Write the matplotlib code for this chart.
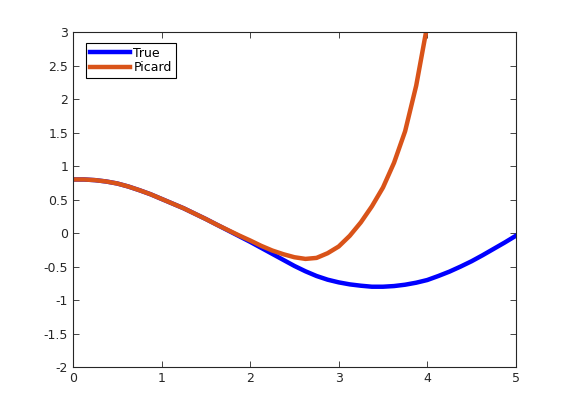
import matplotlib
matplotlib.use("Agg")
import matplotlib.pyplot as plt

x_true = [0, 0.125, 0.25, 0.375, 0.5, 0.625, 0.75, 0.875, 1.0, 1.125, 1.25,
          1.375, 1.5, 1.625, 1.75, 1.875, 2.0, 2.125, 2.25, 2.375, 2.5, 2.625,
          2.75, 2.875, 3.0, 3.125, 3.25, 3.375, 3.5, 3.625, 3.75, 3.875, 4.0,
          4.125, 4.25, 4.375, 4.5, 4.625, 4.75, 4.875, 5.0]
y_true = [0.80, 0.80, 0.79, 0.77, 0.74, 0.695, 0.64, 0.58, 0.51, 0.44, 0.37,
          0.29, 0.21, 0.125, 0.04, -0.045, -0.13, -0.22, -0.31, -0.40, -0.49,
          -0.57, -0.64, -0.695, -0.735, -0.765, -0.785, -0.80, -0.80, -0.79,
          -0.77, -0.74, -0.70, -0.64, -0.575, -0.50, -0.42, -0.33, -0.235,
          -0.14, -0.04]

x_picard = [0, 0.125, 0.25, 0.375, 0.5, 0.625, 0.75, 0.875, 1.0, 1.125, 1.25,
            1.375, 1.5, 1.625, 1.75, 1.875, 2.0, 2.125, 2.25, 2.375, 2.5, 2.625,
            2.75, 2.875, 3.0, 3.125, 3.25, 3.375, 3.5, 3.625, 3.75, 3.875, 4.0]
y_picard = [0.80, 0.80, 0.79, 0.77, 0.74, 0.695, 0.64, 0.58, 0.51, 0.44, 0.37,
            0.29, 0.21, 0.125, 0.045, -0.035, -0.11, -0.19, -0.26, -0.315, -0.36,
            -0.385, -0.37, -0.30, -0.20, -0.04, 0.16, 0.40, 0.68, 1.05, 1.52,
            2.2, 3.1]

labels = ["True", "Picard"]

fig = plt.figure(figsize=(5.7, 4.13), dpi=100)
ax = fig.add_axes([0.128, 0.111, 0.777, 0.8115])
ax.plot(x_true, y_true, color=(0, 0, 1), lw=3.2, label=labels[0],
        solid_joinstyle="round")
ax.plot(x_picard, y_picard, color=(0.85, 0.325, 0.098), lw=3.2, label=labels[1],
        solid_joinstyle="round")
ax.set_xlim(0, 5)
ax.set_ylim(-2, 3)
ax.set_xticks([0, 1, 2, 3, 4, 5])
ax.set_yticks([-2, -1.5, -1, -0.5, 0, 0.5, 1, 1.5, 2, 2.5, 3])
ax.set_yticklabels(["-2", "-1.5", "-1", "-0.5", "0", "0.5", "1", "1.5", "2", "2.5", "3"])
c = (0.15, 0.15, 0.15)
ax.tick_params(direction="in", top=True, right=True, length=4, width=0.6,
               labelsize=9, colors=c)
for s in ax.spines.values():
    s.set_color(c)
    s.set_linewidth(0.8)
leg = ax.legend(loc="upper left", bbox_to_anchor=(0.0293, 0.967), fontsize=9,
                handlelength=3.2, frameon=True, fancybox=False, borderpad=0.3,
                labelspacing=0.1, handletextpad=0.3, borderaxespad=0)
leg.get_frame().set_edgecolor("black")
leg.get_frame().set_linewidth(0.8)
leg.get_frame().set_alpha(1)
fig.savefig("out.png", dpi=100)
